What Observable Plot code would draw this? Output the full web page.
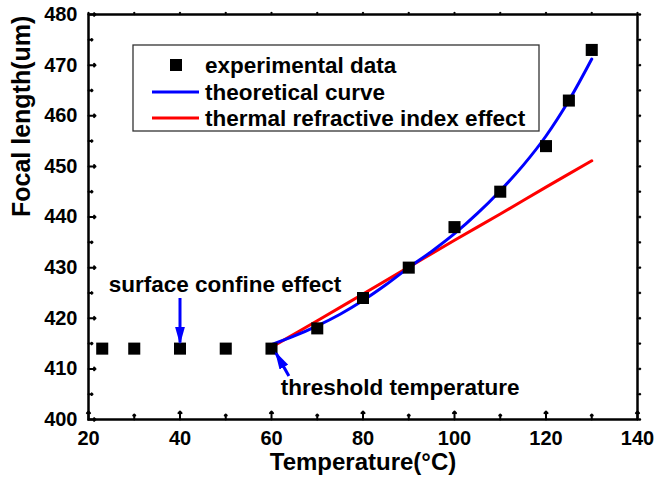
<!DOCTYPE html>
<html>
<head>
<meta charset="utf-8">
<script src="https://cdn.jsdelivr.net/npm/d3@7"></script>
<script src="https://cdn.jsdelivr.net/npm/@observablehq/plot@0.6"></script>
<style>
  html, body { margin: 0; padding: 0; background: #fff; }
  #chart svg { display: block; }
</style>
</head>
<body>
<div id="chart"></div>
<script>
// ---- data ----
const expTemp = [23, 30, 40, 50, 60, 70, 80, 90, 100, 110, 120, 125, 130];
const expFocal = [414, 414, 414, 414, 414, 418, 424, 430, 438, 445, 454, 463, 473];

const theoryTemp = [60, 65, 70, 75, 80, 85, 90, 95, 100, 105, 110, 115, 120, 125, 130];
const theoryFocal = [414.8, 416.5, 418.5, 420.8, 423.5, 426.6, 430, 433.2, 436.7, 440.7, 445.2, 450.2, 456, 463, 471.2];

const thermalTemp = [60, 70, 80, 90, 100, 110, 120, 130];
const thermalFocal = [414.3, 419.5, 424.8, 430.1, 435.4, 440.6, 445.9, 451.1];

const xMajor = [20, 40, 60, 80, 100, 120, 140];
const xMinor = [30, 50, 70, 90, 110, 130];
const yMajor = [400, 410, 420, 430, 440, 450, 460, 470, 480];
const yMinor = [405, 415, 425, 435, 445, 455, 465, 475];

const legendLabels = ["experimental data", "theoretical curve", "thermal refractive index effect"];
const xLabel = "Temperature(\u00B0C)";
const yLabel = "Focal length(um)";

const noteText = ["surface confine effect", "threshold temperature"];
const noteX = [24.4, 62];
const noteY = [426.6, 406.2];

const arrowX1 = [40, 63.8];
const arrowY1 = [424, 408.6];
const arrowX2 = [40, 61];
const arrowY2 = [415.2, 413.1];

// ---- tables for Plot ----
const experimental = expTemp.map((t, i) => ({t, f: expFocal[i]}));
const theory = theoryTemp.map((t, i) => ({t, f: theoryFocal[i]}));
const thermal = thermalTemp.map((t, i) => ({t, f: thermalFocal[i]}));
const notes = noteText.map((text, i) => ({text, x: noteX[i], y: noteY[i]}));
const arrows = arrowX1.map((x1, i) => ({x1, y1: arrowY1[i], x2: arrowX2[i], y2: arrowY2[i]}));

const FONT = "'Liberation Sans', Arial, Helvetica, sans-serif";

const plot = Plot.plot({
  width: 655,
  height: 484,
  marginLeft: 88,
  marginRight: 18,
  marginTop: 14,
  marginBottom: 65,
  style: {fontFamily: FONT, fontWeight: "bold", background: "white", color: "black", overflow: "visible"},
  x: {domain: [20, 140]},
  y: {domain: [400, 480]},
  marks: [
    Plot.axisX(xMajor, {tickSize: 0, tickPadding: 11, fontSize: 20, fontWeight: "bold", label: null}),
    Plot.axisY(yMajor, {tickSize: 0, tickPadding: 11, fontSize: 20, fontWeight: "bold", label: null}),
    // inward ticks bottom / left
    Plot.vector(xMajor, {x: d => d, frameAnchor: "bottom", length: 8, anchor: "start", strokeWidth: 2}),
    Plot.vector(xMinor, {x: d => d, frameAnchor: "bottom", length: 5, anchor: "start", strokeWidth: 2}),
    Plot.vector(yMajor, {y: d => d, frameAnchor: "left", length: 7, rotate: 90, anchor: "start", strokeWidth: 2}),
    Plot.vector(yMinor, {y: d => d, frameAnchor: "left", length: 4, rotate: 90, anchor: "start", strokeWidth: 2}),
    // small outward ticks top / right
    Plot.vector(xMajor.concat(xMinor), {x: d => d, frameAnchor: "top", length: 2, anchor: "start", strokeWidth: 1.5}),
    Plot.vector(yMajor.concat(yMinor), {y: d => d, frameAnchor: "right", length: 3, rotate: 90, anchor: "start", strokeWidth: 1.5}),
    Plot.frame({strokeWidth: 2.5}),
    Plot.line(thermal, {x: "t", y: "f", stroke: "#ff0000", strokeWidth: 3, curve: "catmull-rom"}),
    Plot.line(theory, {x: "t", y: "f", stroke: "#0000ff", strokeWidth: 3, curve: "catmull-rom"}),
    Plot.dot(experimental, {x: "t", y: "f", symbol: "square", r: 6.8, fill: "black", stroke: null}),
    Plot.link(arrows, {x1: "x1", y1: "y1", x2: "x2", y2: "y2", stroke: "#0000ff", strokeWidth: 3}),
    Plot.text(notes, {x: "x", y: "y", text: "text", textAnchor: "start", fontSize: 22.5, fontWeight: "bold", fill: "black"}),
    Plot.text([xLabel], {text: d => d, frameAnchor: "bottom", dy: 50, fontSize: 24, fontWeight: "bold", fill: "black"}),
    Plot.text([yLabel], {text: d => d, frameAnchor: "left", dx: -67, rotate: -90, fontSize: 25, fontWeight: "bold", fill: "black"})
  ]
});

document.getElementById("chart").appendChild(plot);

// ---- arrowheads (filled triangles) ----
const svg = d3.select(plot);
svg.append("defs").append("marker")
  .attr("id", "ahead")
  .attr("viewBox", "0 0 18 10")
  .attr("refX", 16)
  .attr("refY", 5)
  .attr("markerWidth", 18)
  .attr("markerHeight", 10)
  .attr("markerUnits", "userSpaceOnUse")
  .attr("orient", "auto")
  .append("path")
  .attr("d", "M0,0L18,5L0,10Z")
  .attr("fill", "#0000ff");
svg.selectAll("g[aria-label='link'] path").attr("marker-end", "url(#ahead)");

// ---- legend box ----
const lg = svg.append("g")
  .attr("font-family", FONT)
  .attr("font-weight", "bold")
  .attr("font-size", 22.5)
  .attr("text-anchor", "start");
lg.append("rect").attr("x", 133).attr("y", 45).attr("width", 406).attr("height", 86)
  .attr("fill", "white").attr("stroke", "#333").attr("stroke-width", 1.3);
const rowsY = [65, 92, 118];
lg.append("rect").attr("x", 170).attr("y", rowsY[0] - 6).attr("width", 12).attr("height", 12).attr("fill", "black");
lg.append("line").attr("x1", 152).attr("x2", 199).attr("y1", rowsY[1]).attr("y2", rowsY[1]).attr("stroke", "#0000ff").attr("stroke-width", 3);
lg.append("line").attr("x1", 152).attr("x2", 199).attr("y1", rowsY[2]).attr("y2", rowsY[2]).attr("stroke", "#ff0000").attr("stroke-width", 3);
legendLabels.forEach((s, i) => {
  lg.append("text").attr("x", 205).attr("y", rowsY[i]).attr("dy", "0.35em")
    .attr("text-anchor", "start").attr("fill", "black").text(s);
});
</script>
</body>
</html>
